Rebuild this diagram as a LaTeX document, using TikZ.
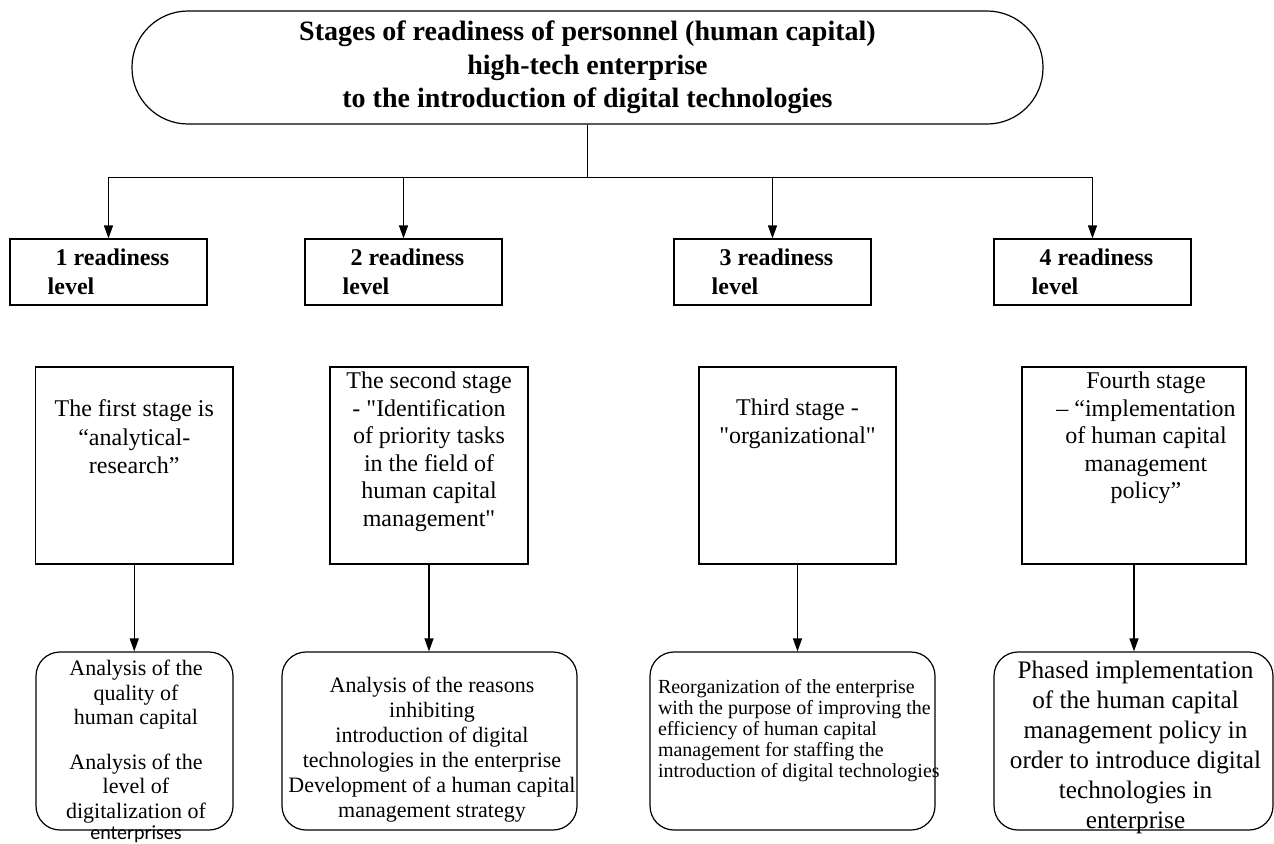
\documentclass[tikz,border=0pt]{standalone}
\usepackage{fontspec}
\setmainfont{Liberation Serif}[Ligatures=TeXOff]
\newfontfamily\calibrifont{Carlito}
\usepackage{tikz}
\usetikzlibrary{calc}
\usetikzlibrary{arrows.meta}

\begin{document}
\begin{tikzpicture}[x=0.5pt, y=-0.5pt, line width=0.6pt,
    arr/.style={-{Triangle[length=6.5pt,width=4.5pt]}},
    headbox/.style={draw, rounded corners=28pt, minimum width=455.5pt, minimum height=56.5pt, inner sep=0pt, align=center, font=\bfseries\fontsize{14}{16.75}\selectfont},
    lvlbox/.style={draw, rectangle, minimum width=98.5pt, minimum height=33pt, inner sep=0pt, align=left, font=\bfseries\fontsize{12}{14.5}\selectfont},
    stagebox/.style={draw, rectangle, minimum height=98.5pt, inner sep=0pt},
    resbox/.style={draw, rounded corners=12pt, minimum height=89pt, inner sep=0pt},
    stagetxt/.style={anchor=north, inner sep=0pt, align=center, font=\fontsize{12}{13.75}\selectfont}
]
    \useasboundingbox (0,0) rectangle (1274,843);

    \node[headbox] (head) at (587.5,67.5) {Stages of readiness of personnel (human capital)\\high-tech enterprise\\to the introduction of digital technologies};

    \node[lvlbox] (lvl1) at (108.5,272) {\hspace*{4pt}1 readiness\\level};
    \node[lvlbox] (lvl2) at (403.5,272) {\hspace*{4pt}2 readiness\\level};
    \node[lvlbox] (lvl3) at (772.5,272) {\hspace*{4pt}3 readiness\\level};
    \node[lvlbox] (lvl4) at (1092.5,272) {\hspace*{4pt}4 readiness\\level};

    \node[stagebox, minimum width=98.75pt] (st1) at (134.25,465.5) {};
    \node[stagebox, minimum width=99pt] (st2) at (429,465.5) {};
    \node[stagebox, minimum width=98.5pt] (st3) at (797.5,465.5) {};
    \node[stagebox, minimum width=112pt] (st4) at (1134,465.5) {};

    \node[stagetxt, font=\fontsize{12}{14.25}\selectfont] (st1t) at ($(st1.north)+(0,33)$) {The first stage is\\“analytical-\\research”};
    \node[stagetxt] (st2t) at ($(st2.north)+(0,5)$) {The second stage\\- "Identification\\of priority tasks\\in the field of\\human capital\\management"};
    \node[stagetxt] (st3t) at ($(st3.north)+(0,32)$) {Third stage -\\"organizational"};
    \node[stagetxt] (st4t) at ($(st4.north)+(12,5)$) {Fourth stage\\– “implementation\\of human capital\\management\\policy”};

    \node[resbox, minimum width=98.5pt] (res1) at (134.5,741) {};
    \node[resbox, minimum width=147.5pt] (res2) at (429.5,741) {};
    \node[resbox, minimum width=142.5pt] (res3) at (792.5,741) {};
    \node[resbox, minimum width=139.5pt] (res4) at (1133.5,741) {};

    \node[stagetxt, font=\fontsize{11}{12.25}\selectfont] (res1t) at ($(res1.north)+(1.5,8)$) {Analysis of the\\quality of\\human capital\\[10pt]Analysis of the\\level of\\digitalization of\\[-1.5pt]{\calibrifont\fontsize{10}{12}\selectfont enterprises}};
    \node[stagetxt, font=\fontsize{11}{12.5}\selectfont] (res2t) at ($(res2.north)+(2.5,25)$) {Analysis of the reasons\\inhibiting\\introduction of digital\\technologies in the enterprise\\Development of a human capital\\management strategy};
    \node[stagetxt, anchor=north west, align=left, font=\fontsize{10}{10.6}\selectfont] (res3t) at ($(res3.north west)+(8,27)$) {Reorganization of the enterprise\\with the purpose of improving the\\efficiency of human capital\\management for staffing the\\introduction of digital technologies};
    \node[stagetxt, font=\fontsize{12.6}{15}\selectfont] (res4t) at ($(res4.north)+(2,9)$) {Phased implementation\\of the human capital\\management policy in\\order to introduce digital\\technologies in\\enterprise};

    \coordinate (bus) at ($(head.south)+(0,53)$);
    \draw (head.south) -- (bus);
    \foreach \i in {1,...,4}
        \draw[arr] (bus) -| (lvl\i.north);
    \foreach \i in {1,...,4}
        \draw[arr] (st\i.south) -- (st\i.south |- res\i.north);
\end{tikzpicture}
\end{document}
